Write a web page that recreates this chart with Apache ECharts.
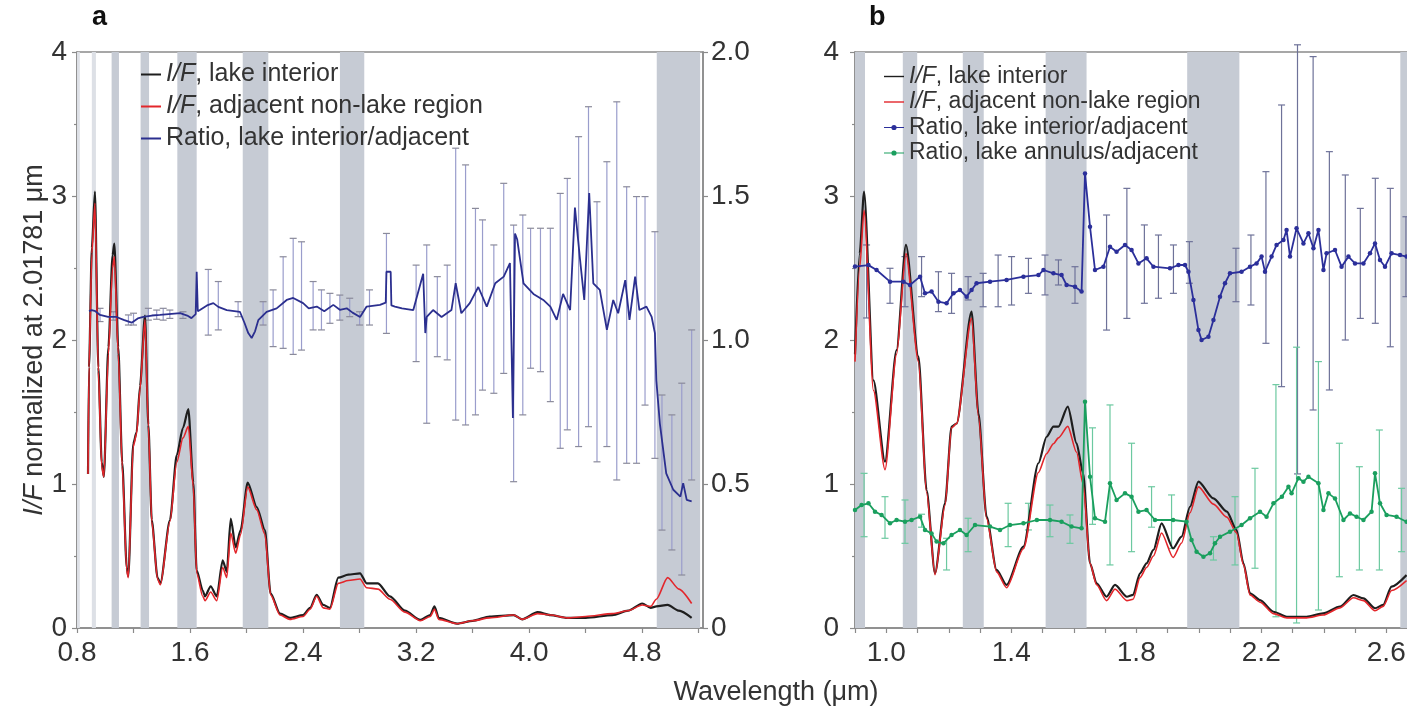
<!DOCTYPE html>
<html><head><meta charset="utf-8">
<script src="https://cdn.jsdelivr.net/npm/echarts@6/dist/echarts.min.js"></script>
<style>html,body{margin:0;padding:0;background:#fff}#c{width:1407px;height:715px}</style>
</head><body><div id="c"></div>
<script>
// ---------------- Panel a data ----------------
const wlA     = [0.878,0.885,0.905,0.927,0.951,0.975,0.99,1.022,1.052,1.064,1.092,1.12,1.152,1.163,1.198,1.222,1.246,1.281,1.305,1.329,1.37,1.39,1.458,1.506,1.55,1.588,1.623,1.647,1.69,1.706,1.746,1.789,1.831,1.86,1.888,1.923,1.958,2.008,2.072,2.13,2.17,2.237,2.307,2.40,2.45,2.496,2.543,2.59,2.649,2.72,2.803,2.85,2.93,3.015,3.12,3.23,3.30,3.33,3.36,3.49,3.60,3.72,3.89,3.95,4.06,4.15,4.27,4.40,4.59,4.70,4.80,4.86,4.90,4.98,5.06,5.15];
const ifLakeA = [1.07,1.81,2.64,3.03,1.81,1.15,1.05,1.95,2.59,2.67,1.95,1.15,0.42,0.36,1.28,1.36,1.68,2.17,1.41,0.75,0.35,0.31,0.75,1.20,1.39,1.52,1.01,0.40,0.26,0.22,0.29,0.22,0.47,0.39,0.76,0.56,0.68,1.01,0.84,0.68,0.24,0.10,0.07,0.09,0.14,0.23,0.16,0.14,0.35,0.37,0.38,0.31,0.31,0.22,0.12,0.056,0.09,0.15,0.07,0.03,0.05,0.08,0.09,0.06,0.11,0.09,0.07,0.07,0.09,0.12,0.17,0.14,0.15,0.16,0.12,0.07];
const ifAdjA  = [1.07,1.81,2.60,2.95,1.78,1.12,1.05,1.90,2.50,2.58,1.90,1.12,0.40,0.35,1.26,1.35,1.66,2.14,1.40,0.74,0.34,0.30,0.74,1.15,1.32,1.40,0.98,0.38,0.22,0.19,0.25,0.19,0.42,0.35,0.66,0.52,0.65,0.98,0.82,0.65,0.23,0.09,0.06,0.08,0.13,0.22,0.14,0.13,0.31,0.33,0.34,0.28,0.27,0.20,0.11,0.05,0.08,0.13,0.06,0.03,0.05,0.07,0.09,0.06,0.10,0.09,0.07,0.08,0.10,0.12,0.16,0.15,0.20,0.35,0.27,0.17];
const ratioWlA = [0.885,0.904,0.93,0.963,1.02,1.08,1.13,1.187,1.23,1.27,1.33,1.387,1.45,1.53,1.58,1.61,1.64,1.647,1.655,1.67,1.72,1.765,1.80,1.86,1.953,1.985,2.012,2.036,2.06,2.083,2.142,2.213,2.284,2.33,2.40,2.44,2.497,2.55,2.614,2.66,2.709,2.75,2.803,2.85,2.944,2.985,2.99,3.02,3.025,3.05,3.10,3.18,3.25,3.265,3.275,3.32,3.38,3.45,3.48,3.52,3.58,3.64,3.70,3.76,3.82,3.864,3.885,3.90,3.915,3.96,4.03,4.10,4.15,4.195,4.24,4.29,4.324,4.36,4.39,4.425,4.454,4.50,4.55,4.595,4.63,4.68,4.71,4.75,4.78,4.83,4.867,4.89,4.90,4.925,4.97,5.02,5.07,5.09,5.115,5.15];
const ratioA   = [1.10,1.104,1.10,1.087,1.08,1.08,1.07,1.06,1.075,1.08,1.085,1.087,1.09,1.093,1.085,1.076,1.09,1.237,1.10,1.104,1.12,1.128,1.115,1.104,1.098,1.06,1.024,1.007,1.03,1.069,1.098,1.11,1.139,1.146,1.128,1.11,1.116,1.10,1.122,1.105,1.11,1.095,1.08,1.116,1.122,1.13,1.237,1.237,1.12,1.116,1.11,1.104,1.23,1.024,1.08,1.104,1.08,1.104,1.197,1.093,1.128,1.184,1.116,1.197,1.22,1.267,0.729,1.37,1.35,1.197,1.16,1.139,1.116,1.07,1.16,1.104,1.46,1.28,1.139,1.51,1.197,1.174,1.035,1.139,1.093,1.208,1.07,1.22,1.104,1.116,1.08,1.024,0.86,0.71,0.537,0.48,0.456,0.503,0.445,0.44];
const errWlA = [0.963,1.058,1.164,1.20,1.305,1.364,1.41,1.457,1.55,1.729,1.80,1.94,2.117,2.188,2.259,2.33,2.389,2.471,2.53,2.59,2.66,2.73,2.80,2.87,2.99,3.20,3.275,3.35,3.42,3.48,3.55,3.62,3.67,3.75,3.82,3.89,3.955,4.01,4.08,4.15,4.22,4.27,4.35,4.42,4.48,4.55,4.62,4.69,4.76,4.82,4.89,4.94,5.01,5.08,5.15];
const errLoA = [1.064,1.069,1.052,1.052,1.069,1.072,1.069,1.075,1.075,1.017,1.035,1.081,1.052,0.977,0.971,0.950,0.965,1.035,1.035,1.058,1.069,1.081,1.052,1.052,1.023,0.925,0.711,0.942,0.931,0.722,0.705,0.740,0.826,0.815,0.884,0.508,0.740,0.902,0.890,0.786,0.624,0.688,0.630,0.699,0.577,0.630,0.514,0.572,0.572,0.774,0.589,0.340,0.271,0.184,0.514];
const errHiA = [1.110,1.098,1.087,1.093,1.110,1.104,1.110,1.104,1.098,1.245,1.203,1.133,1.133,1.174,1.289,1.353,1.341,1.203,1.174,1.162,1.156,1.145,1.098,1.174,1.370,1.260,1.330,1.220,1.260,1.666,1.608,1.457,1.417,1.330,1.544,1.399,1.434,1.388,1.388,1.388,1.509,1.561,1.706,1.810,1.480,1.619,1.827,1.532,1.498,1.498,1.376,0.809,0.740,0.850,1.035];
const bandsA = [[0.80,0.82],[0.905,0.934],[1.045,1.097],[1.25,1.31],[1.51,1.647],[1.973,2.154],[2.661,2.833],[4.903,5.21]];
const xLabelsA = [0.8,1.6,2.4,3.2,4.0,4.8];
const yLabelsRight = [0,0.5,1.0,1.5,2.0];

// ---------------- Panel b data ----------------
const wlB     = [0.90,0.915,0.929,0.959,0.996,1.033,1.063,1.103,1.129,1.156,1.188,1.209,1.225,1.273,1.295,1.321,1.353,1.385,1.439,1.487,1.513,1.535,1.551,1.581,1.609,1.63,1.652,1.673,1.705,1.732,1.77,1.79,1.812,1.833,1.855,1.881,1.918,1.945,1.972,1.999,2.047,2.09,2.121,2.143,2.164,2.196,2.239,2.282,2.345,2.398,2.452,2.495,2.527,2.564,2.59,2.617,2.665];
const ifLakeB = [1.90,2.60,3.03,1.72,1.155,1.93,2.66,1.884,0.958,0.38,0.866,1.398,1.42,2.197,1.49,0.773,0.403,0.299,0.565,1.144,1.328,1.398,1.398,1.537,1.283,1.074,0.449,0.31,0.217,0.299,0.217,0.23,0.38,0.449,0.542,0.727,0.553,0.634,0.842,1.016,0.90,0.808,0.68,0.449,0.241,0.194,0.113,0.078,0.078,0.102,0.148,0.229,0.206,0.137,0.16,0.287,0.368];
const ifAdjB  = [1.85,2.50,2.90,1.65,1.10,1.90,2.60,1.85,0.94,0.37,0.85,1.39,1.42,2.15,1.47,0.76,0.39,0.28,0.55,1.08,1.21,1.28,1.32,1.40,1.22,1.00,0.45,0.30,0.19,0.27,0.19,0.20,0.35,0.42,0.50,0.66,0.49,0.59,0.80,0.98,0.86,0.77,0.66,0.44,0.23,0.18,0.10,0.07,0.07,0.09,0.14,0.21,0.19,0.12,0.15,0.26,0.33];
const ratioWlB = [0.90,0.943,0.969,1.012,1.055,1.076,1.108,1.124,1.145,1.167,1.193,1.215,1.236,1.257,1.273,1.289,1.332,1.385,1.439,1.487,1.503,1.535,1.561,1.577,1.604,1.625,1.636,1.652,1.668,1.695,1.716,1.737,1.764,1.785,1.807,1.833,1.855,1.908,1.935,1.956,1.967,1.983,1.999,2.009,2.031,2.047,2.068,2.084,2.1,2.137,2.164,2.185,2.201,2.212,2.233,2.249,2.271,2.281,2.292,2.313,2.335,2.351,2.367,2.383,2.399,2.409,2.436,2.457,2.479,2.5,2.527,2.548,2.564,2.58,2.596,2.617,2.644,2.665];
const ratioB   = [2.51,2.52,2.486,2.405,2.405,2.382,2.44,2.324,2.336,2.266,2.255,2.324,2.347,2.301,2.347,2.394,2.405,2.417,2.44,2.451,2.486,2.463,2.451,2.382,2.37,2.336,3.157,2.787,2.486,2.509,2.648,2.613,2.66,2.625,2.532,2.567,2.509,2.498,2.521,2.521,2.474,2.278,2.069,2.0,2.023,2.139,2.301,2.394,2.463,2.474,2.509,2.532,2.579,2.474,2.579,2.66,2.694,2.764,2.579,2.776,2.671,2.741,2.637,2.764,2.486,2.602,2.625,2.509,2.579,2.532,2.532,2.602,2.671,2.556,2.509,2.602,2.59,2.579];
const errWlB = [0.937,1.012,1.06,1.113,1.167,1.209,1.262,1.31,1.358,1.401,1.455,1.508,1.551,1.604,1.705,1.77,1.826,1.871,1.919,1.97,2.119,2.167,2.215,2.265,2.316,2.366,2.418,2.469,2.517,2.565,2.613,2.663];
const errLoB = [2.153,2.255,2.231,2.301,2.197,2.185,2.278,2.231,2.231,2.243,2.324,2.313,2.382,2.255,2.069,2.15,2.255,2.29,2.324,2.394,2.266,2.243,1.977,1.676,1.07,1.514,1.653,2.0,2.15,2.116,1.953,2.301];
const errHiB = [2.66,2.498,2.579,2.579,2.474,2.463,2.44,2.463,2.59,2.579,2.567,2.59,2.556,2.509,2.868,3.053,2.799,2.729,2.66,2.683,2.637,2.729,3.169,3.632,4.05,3.968,3.308,3.146,2.914,3.123,3.053,2.856];
const annWlB = [0.9,0.921,0.943,0.964,0.985,1.012,1.033,1.06,1.081,1.108,1.124,1.145,1.161,1.183,1.209,1.236,1.257,1.284,1.332,1.364,1.396,1.439,1.482,1.524,1.561,1.593,1.625,1.636,1.652,1.668,1.7,1.716,1.737,1.764,1.785,1.807,1.833,1.86,1.918,1.961,1.977,1.993,2.015,2.036,2.052,2.068,2.1,2.137,2.164,2.196,2.217,2.239,2.266,2.287,2.297,2.319,2.335,2.351,2.383,2.399,2.415,2.436,2.463,2.484,2.505,2.527,2.553,2.564,2.58,2.601,2.633,2.665];
const annB   = [0.819,0.854,0.866,0.808,0.785,0.727,0.75,0.738,0.75,0.773,0.681,0.657,0.6,0.588,0.646,0.681,0.646,0.715,0.704,0.681,0.715,0.727,0.75,0.75,0.738,0.704,0.692,1.572,1.051,0.762,0.738,1.005,0.889,0.935,0.912,0.808,0.819,0.75,0.75,0.738,0.611,0.53,0.495,0.519,0.588,0.634,0.669,0.715,0.762,0.808,0.773,0.866,0.912,0.981,0.935,1.04,1.016,1.051,1.005,0.819,0.935,0.90,0.75,0.796,0.773,0.75,0.808,1.074,0.866,0.785,0.773,0.738];
const annErrWlB = [0.929,0.996,1.06,1.113,1.193,1.262,1.39,1.455,1.524,1.588,1.66,1.716,1.785,1.849,1.913,2.047,2.116,2.18,2.247,2.313,2.383,2.45,2.514,2.578,2.649];
const annErrLoB = [0.634,0.623,0.588,0.70,0.403,0.53,0.565,0.681,0.634,0.588,0.72,0.438,0.53,0.70,0.553,0.472,0.438,0.415,0.078,0.035,0.125,0.356,0.403,0.403,0.53];
const annErrHiB = [1.074,0.912,0.889,0.79,0.623,0.762,0.866,0.866,0.854,0.785,1.39,1.549,1.283,0.981,0.924,0.634,0.912,1.109,1.69,1.95,1.85,1.283,1.12,1.375,0.97];
const bandsB = [[0.9,0.932],[1.053,1.099],[1.245,1.312],[1.51,1.641],[1.963,2.13],[2.645,2.67]];
const xLabelsB = [1.0,1.4,1.8,2.2,2.6];
const yLabels = [0,1,2,3,4];

// ---------------- helpers ----------------
const zip = (xs, ys) => xs.map((x, i) => [x, ys[i]]);
const zip3 = (xs, a, b) => xs.map((x, i) => [x, a[i], b[i]]);
const near = (v, list) => list.some(t => Math.abs(t - v) < 1e-6);
const FONT = 'Liberation Sans, Arial, Helvetica, sans-serif';
const TXT = '#333';
const AX = '#8a8a8a';

function errRender(color, capColor) {
  return function (params, api) {
    const x = api.value(0), lo = api.value(1), hi = api.value(2);
    const p1 = api.coord([x, lo]), p2 = api.coord([x, hi]);
    const c = 3.5;
    return { type: 'group', children: [
      { type: 'line', shape: { x1: p1[0], y1: p1[1], x2: p2[0], y2: p2[1] }, style: { stroke: color, lineWidth: 1.2 } },
      { type: 'line', shape: { x1: p1[0] - c, y1: p1[1], x2: p1[0] + c, y2: p1[1] }, style: { stroke: capColor, lineWidth: 1.2 } },
      { type: 'line', shape: { x1: p2[0] - c, y1: p2[1], x2: p2[0] + c, y2: p2[1] }, style: { stroke: capColor, lineWidth: 1.2 } }
    ]};
  };
}
const bandArea = (bands, lightNarrow) => ({ silent: true, itemStyle: { color: '#c6cbd4' },
  data: bands.map(b => [{ xAxis: b[0], itemStyle: { color: (lightNarrow && b[1] - b[0] < 0.035) ? '#dde0e6' : '#c6cbd4' } }, { xAxis: b[1] }]) });
const legendFmt = (name) => { const n = name.replace(/^b:/, ''); return n.indexOf('I/F') === 0 ? '{i|I/F}' + n.slice(3) : n; };
const markerIcon = 'path://M0,4 L20,4 L20,5.2 L0,5.2 Z M12.6,4.6 A2.6,2.6 0 1,1 7.4,4.6 A2.6,2.6 0 1,1 12.6,4.6 Z';
const lineIcon = 'path://M0,0 L20,0 L20,1.4 L0,1.4 Z';

const GA = { left: 77, top: 52, width: 626, height: 576 };
const GB = { left: 855, top: 52, width: 553, height: 576 };
const CA = 0.8 + 626 / 141.3;   // x max panel a
const CB = 0.9 + 553 / 312.5;   // x max panel b

const chart = echarts.init(document.getElementById('c'), null, { renderer: 'canvas' });
const baseX = (min, max, labels) => ({
  type: 'value', min, max, interval: 0.1, splitLine: { show: false },
  axisLine: { show: true, onZero: false, lineStyle: { color: AX, width: 1.5 } },
  axisTick: { show: true, inside: false, length: 5, lineStyle: { color: AX, width: 1.2 } },
  axisLabel: { show: true, showMaxLabel: false, showMinLabel: true, fontSize: 28, fontFamily: FONT, color: TXT, margin: 11,
    formatter: v => near(v, labels) ? v.toFixed(1) : '' }
});
const baseY = (max, interval, fmt, margin) => ({
  type: 'value', min: 0, max, interval, splitLine: { show: false },
  axisLine: { show: true, lineStyle: { color: AX, width: 1.5 } },
  axisTick: { show: true, inside: false, length: 5, lineStyle: { color: AX, width: 1.2 } },
  minorTick: { show: true, splitNumber: 2, length: 3, lineStyle: { color: AX, width: 1.2 } },
  axisLabel: { fontSize: 28, fontFamily: FONT, color: TXT, margin, formatter: fmt }
});

const xa = baseX(0.8, CA, xLabelsA); xa.interval = 0.4;
const xb = baseX(0.9, CB, xLabelsB); xb.interval = 0.1;
const ya = baseY(4, 1, v => near(v, yLabels) ? String(v) : '', 10);
ya.gridIndex = 0;
ya.name = '{i|I/F} normalized at 2.01781 μm';
ya.nameLocation = 'middle';
ya.nameGap = 29;
ya.nameMoveOverlap = false;
ya.nameTextStyle = { fontSize: 27, fontFamily: FONT, color: TXT, rich: { i: { fontStyle: 'italic', fontSize: 27, fontFamily: FONT, color: TXT } } };
const yr = baseY(2, 0.5, v => near(v, yLabelsRight) ? (v === 0 ? '0' : v.toFixed(1)) : '', 8);
yr.gridIndex = 0; yr.position = 'right'; yr.minorTick = { show: false };
const yb = baseY(4, 1, v => near(v, yLabels) ? String(v) : '', 16);
yb.gridIndex = 1;
xa.gridIndex = 0; xb.gridIndex = 1;

const legendText = { fontSize: 25, fontFamily: FONT, color: TXT, rich: { i: { fontStyle: 'italic', fontSize: 25, fontFamily: FONT, color: TXT } } };
const legendTextB = { fontSize: 23, fontFamily: FONT, color: TXT, rich: { i: { fontStyle: 'italic', fontSize: 23, fontFamily: FONT, color: TXT } } };

chart.setOption({
  animation: false,
  backgroundColor: '#fff',
  textStyle: { fontFamily: FONT },
  grid: [
    Object.assign({ show: true, borderColor: AX, borderWidth: 1.5, containLabel: false, outerBoundsMode: 'none' }, GA),
    Object.assign({ show: true, borderColor: AX, borderWidth: 1.5, containLabel: false, outerBoundsMode: 'none' }, GB)
  ],
  xAxis: [xa, xb],
  yAxis: [ya, yr, yb],
  legend: [
    { orient: 'vertical', left: 141, top: 62, itemWidth: 20, itemHeight: 2, itemGap: 7, icon: 'rect', selectedMode: false,
      textStyle: legendText, formatter: legendFmt, padding: 0,
      data: ['I/F, lake interior', 'I/F, adjacent non-lake region', 'Ratio, lake interior/adjacent'] },
    { orient: 'vertical', left: 884, top: 65, itemWidth: 20, itemHeight: 9, itemGap: 2.5, selectedMode: false,
      textStyle: legendTextB, formatter: legendFmt, padding: 0,
      data: [{ name: 'b:I/F, lake interior', icon: lineIcon }, { name: 'b:I/F, adjacent non-lake region', icon: lineIcon },
             { name: 'b:Ratio, lake interior/adjacent', icon: markerIcon }, { name: 'b:Ratio, lake annulus/adjacent', icon: markerIcon }] }
  ],
  graphic: [
    { type: 'text', left: 92, top: 4, style: { text: 'a', fontSize: 27, fontWeight: 'bold', fontFamily: FONT, fill: '#111' } },
    { type: 'text', left: 869, top: 4, style: { text: 'b', fontSize: 27, fontWeight: 'bold', fontFamily: FONT, fill: '#111' } },
    { type: 'text', x: 776, y: 693, style: { text: 'Wavelength (μm)', fontSize: 27, fontFamily: FONT, fill: TXT, align: 'center', verticalAlign: 'middle' } }
  ],
  series: [
    { name: 'I/F, lake interior', type: 'line', xAxisIndex: 0, yAxisIndex: 0, data: zip(wlA, ifLakeA), showSymbol: false, symbol: 'none',
      smooth: 0.25, smoothMonotone: 'x',
      lineStyle: { color: '#1e1e1e', width: 2.2 }, itemStyle: { color: '#1e1e1e' }, z: 3, markArea: bandArea(bandsA, true) },
    { name: 'I/F, adjacent non-lake region', type: 'line', xAxisIndex: 0, yAxisIndex: 0, data: zip(wlA, ifAdjA), showSymbol: false, symbol: 'none',
      smooth: 0.25, smoothMonotone: 'x',
      lineStyle: { color: '#e3262b', width: 1.6 }, itemStyle: { color: '#e3262b' }, z: 4 },
    { name: 'errA', type: 'custom', xAxisIndex: 0, yAxisIndex: 1, data: zip3(errWlA, errLoA, errHiA), encode: { x: 0, y: [1, 2] },
      renderItem: errRender('#9a9dcc', '#8a8a9a'), z: 2, silent: true },
    { name: 'Ratio, lake interior/adjacent', type: 'line', xAxisIndex: 0, yAxisIndex: 1, data: zip(ratioWlA, ratioA), showSymbol: false, symbol: 'none',
      lineStyle: { color: '#2b2f8f', width: 1.8 }, itemStyle: { color: '#2b2f8f' }, z: 5 },

    { name: 'b:I/F, lake interior', type: 'line', xAxisIndex: 1, yAxisIndex: 2, data: zip(wlB, ifLakeB), showSymbol: false, symbol: 'none',
      smooth: 0.25, smoothMonotone: 'x',
      lineStyle: { color: '#1e1e1e', width: 2.2 }, itemStyle: { color: '#1e1e1e' }, z: 3, markArea: bandArea(bandsB, false) },
    { name: 'b:I/F, adjacent non-lake region', type: 'line', xAxisIndex: 1, yAxisIndex: 2, data: zip(wlB, ifAdjB), showSymbol: false, symbol: 'none',
      smooth: 0.25, smoothMonotone: 'x',
      lineStyle: { color: '#e3262b', width: 1.6 }, itemStyle: { color: '#e3262b' }, z: 4 },
    { name: 'errB', type: 'custom', xAxisIndex: 1, yAxisIndex: 2, data: zip3(errWlB, errLoB, errHiB), encode: { x: 0, y: [1, 2] },
      renderItem: errRender('#6e7299', '#6e7299'), z: 2, silent: true },
    { name: 'errAnn', type: 'custom', xAxisIndex: 1, yAxisIndex: 2, data: zip3(annErrWlB, annErrLoB, annErrHiB), encode: { x: 0, y: [1, 2] },
      renderItem: errRender('#6cc9a0', '#6cc9a0'), z: 2, silent: true },
    { name: 'b:Ratio, lake interior/adjacent', type: 'line', xAxisIndex: 1, yAxisIndex: 2, data: zip(ratioWlB, ratioB), showSymbol: true, symbol: 'circle', symbolSize: 4.5,
      lineStyle: { color: '#2b2f9a', width: 1.8 }, itemStyle: { color: '#2b2f9a' }, z: 5 },
    { name: 'b:Ratio, lake annulus/adjacent', type: 'line', xAxisIndex: 1, yAxisIndex: 2, data: zip(annWlB, annB), showSymbol: true, symbol: 'circle', symbolSize: 4.5,
      lineStyle: { color: '#1a9f5e', width: 1.8 }, itemStyle: { color: '#1a9f5e' }, z: 5 }
  ]
});
</script></body></html>
